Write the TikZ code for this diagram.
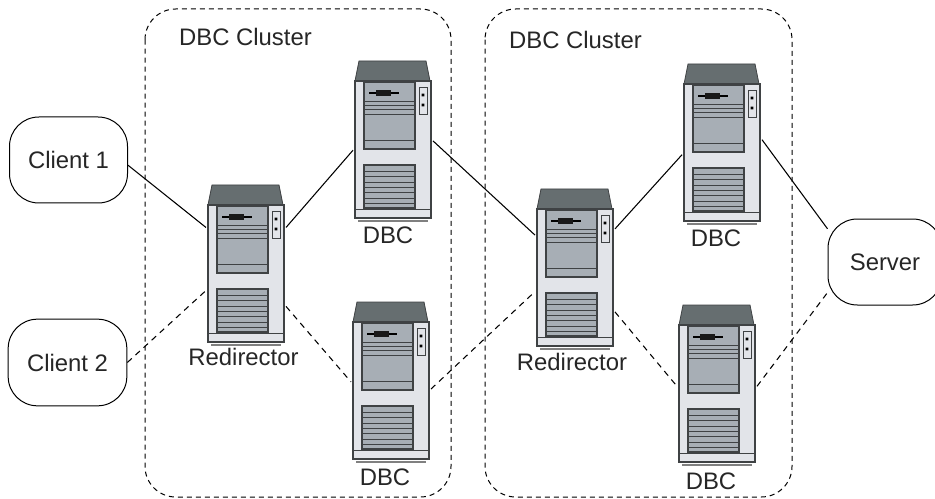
\documentclass[tikz,border=0pt]{standalone}
\usepackage{fontspec}
\setmainfont{Liberation Sans}
\definecolor{towertop}{HTML}{666E70}
\definecolor{towerbody}{HTML}{E2E4E9}
\definecolor{towerpanel}{HTML}{A7AEB5}
\definecolor{towerline}{HTML}{3F4244}
\tikzset{
  lbl/.style={font=\fontsize{17.9pt}{20pt}\selectfont,text=black!85,inner sep=0pt},
  endbox/.style={draw,rounded corners=22pt,line width=.75pt,inner sep=0pt,lbl},
  cluster/.style={draw,rounded corners=23pt,line width=.75pt,dash pattern=on 3.75pt off 3pt},
  link/.style={line width=.8pt},
  dlink/.style={line width=.8pt,dash pattern=on 4.5pt off 3.75pt},
  towerbox/.style={minimum width=57pt,minimum height=117.75pt,inner sep=0pt,outer sep=1.5pt},
  tower/.pic={
    \node[towerbox] (-box) at (38,78.5) {};
    \draw[towerline,line width=.6pt,fill=towertop] (4,0) -- (71,0) -- (75,20) -- (0,20) -- cycle;
    \draw[towerline,line width=.8pt,fill=towerbody] (0,20) rectangle (76,157);
    \draw[towerline,line width=.5pt] (0,148) -- (76,148);
    \draw[gray,line width=1pt] (3,160) -- (73,160);
    \draw[towerline,line width=.8pt,fill=towerpanel] (9,21) rectangle (60,88);
    \foreach \y in {40,44,48,53,79} \draw[towerline,line width=.6pt] (9,\y) -- (60,\y);
    \draw[black,line width=.8pt] (14,32) -- (44,32);
    \fill[black!90] (21,29) rectangle (36,35);
    \draw[towerline,line width=.6pt,fill=towerbody] (64,26) rectangle (72,53);
    \fill[black] (66.7,32.7) rectangle (69.3,35.3) (66.7,42.7) rectangle (69.3,45.3);
    \draw[towerline,line width=.8pt,fill=towerpanel] (9,104) rectangle (60,147);
    \foreach \y in {110,115,121,126,131,137,142} \draw[towerline,line width=.6pt] (9,\y) -- (60,\y);
  }
}
\begin{document}
\begin{tikzpicture}[x=.75pt,y=-.75pt]
\useasboundingbox (0,0) rectangle (935,499);
\draw[cluster] (145,9) rectangle (451,497);
\draw[cluster] (485,9) rectangle (792,497);
\node[lbl] (title1) at (245.5,37) {DBC Cluster};
\node[lbl] (title2) at (575.5,40) {DBC Cluster};
\node[endbox,minimum width=88.5pt,minimum height=64.5pt] (client1) at (68.5,160) {Client 1};
\node[endbox,minimum width=89pt,minimum height=65pt] (client2) at (67.5,362.5) {Client 2};
\node[endbox,minimum width=85.5pt,minimum height=64.5pt] (server) at (885,262) {Server};
\pic (rd1) at (208,185) {tower};
\pic (dbc1) at (355,61) {tower};
\pic (dbc2) at (353,302) {tower};
\pic (rd2) at (537,189) {tower};
\pic (dbc3) at (684,64) {tower};
\pic (dbc4) at (679,305) {tower};
\node[lbl] (rd1lbl) at (243.5,357) {Redirector};
\node[lbl] (rd2lbl) at (572,362) {Redirector};
\node[lbl] (dbc1lbl) at (388,235) {DBC};
\node[lbl] (dbc2lbl) at (385,477) {DBC};
\node[lbl] (dbc3lbl) at (716,238) {DBC};
\node[lbl] (dbc4lbl) at (711,481) {DBC};
\draw[link] (client1.355) -- (rd1-box.138);
\draw[link] (rd1-box.42) -- (dbc1-box.195);
\draw[link] (dbc1-box.358) -- (rd2-box.141);
\draw[link] (rd2-box.44) -- (dbc3-box.197);
\draw[link] (dbc3-box.4) -- (server.150);
\draw[dlink] (client2.east) -- (rd1-box.214);
\draw[dlink] (rd1-box.313) -- (dbc2-box.182);
\draw[dlink] (dbc2-box.348) -- (rd2-box.211);
\draw[dlink] (rd2-box.312) -- (dbc4-box.184);
\draw[dlink] (dbc4-box.356) -- (server.208);
\end{tikzpicture}
\end{document}
